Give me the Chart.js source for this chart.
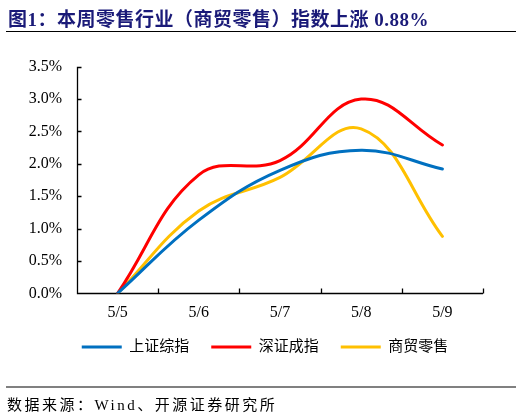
<!DOCTYPE html>
<html>
<head>
<meta charset="utf-8">
<script src="https://cdn.jsdelivr.net/npm/chart.js@4"></script>
<style>
  body { margin: 0; background: #fff; }
  #wrap { position: relative; width: 522px; height: 417px; overflow: hidden; }
  #chart { position: absolute; left: 0; top: 0; }
  .title {
    position: absolute; left: 8px; top: 4px; line-height: 22px;
    font: bold 19px "Liberation Serif", "Noto Sans CJK SC", serif;
    letter-spacing: 0.5px; color: #1a1a78; white-space: nowrap;
  }
  .rule { position: absolute; left: 6px; width: 510px; }
  .source {
    position: absolute; left: 7px; top: 393px; line-height: 20px;
    font: 15px "Liberation Serif", "Noto Sans CJK SC", serif;
    letter-spacing: 2.5px; color: #000; white-space: nowrap;
  }
</style>
</head>
<body>
<div id="wrap">
  <canvas id="chart" width="522" height="417"></canvas>
  <div class="title">图1：本周零售行业（商贸零售）指数上涨 0.88%</div>
  <div class="rule" style="top:30.5px;height:1.5px;background:#000"></div>
  <div class="rule" style="top:386px;height:1.5px;background:#808080"></div>
  <div class="source">数据来源：Wind、开源证券研究所</div>
</div>
<script>
/* ================= DATA ================= */
const days = ["5/5", "5/6", "5/7", "5/8", "5/9"];
const shIndex = [0, 1.13, 1.90, 2.21, 1.92];     // 上证综指
const szIndex = [0, 1.83, 2.05, 3.00, 2.29];     // 深证成指
const retail  = [0, 1.27, 1.79, 2.54, 0.88];     // 商贸零售
const yTicks  = [0, 0.5, 1.0, 1.5, 2.0, 2.5, 3.0, 3.5];

const serif = '"Liberation Serif", "Noto Sans CJK SC", serif';

/* ================= AXES (inward ticks) ================= */
const axisLines = {
  id: "axisLines",
  beforeDatasetsDraw(chart) {
    const { ctx, chartArea, scales: { x, y } } = chart;
    const left = Math.round(chartArea.left) + 0.5;
    const base = Math.round(y.getPixelForValue(0)) + 0.5;
    const top = y.getPixelForValue(yTicks[yTicks.length - 1]);

    ctx.save();
    ctx.strokeStyle = "#000";
    ctx.lineWidth = 1.3;
    ctx.beginPath();
    ctx.moveTo(left, top);
    ctx.lineTo(left, base);
    ctx.lineTo(x.getPixelForValue(days.length - 0.5), base);

    yTicks.forEach(v => {
      const py = Math.round(y.getPixelForValue(v)) + 0.5;
      ctx.moveTo(left, py);
      ctx.lineTo(left + 4, py);
    });

    for (let i = 0; i <= days.length; i++) {
      const px = Math.round(x.getPixelForValue(i - 0.5)) + 0.5;
      ctx.moveTo(px, base);
      ctx.lineTo(px, base - 5);
    }
    ctx.stroke();
    ctx.restore();
  }
};

/* ================= CHART ================= */
function series(label, data, color) {
  return {
    label: label,
    data: data,
    borderColor: color,
    backgroundColor: color,
    borderWidth: 3,
    borderCapStyle: "round",
    pointRadius: 0,
    tension: 0.4,
    fill: false,
    yAxisID: "y"
  };
}

new Chart(document.getElementById("chart"), {
  type: "line",
  data: {
    labels: days,
    datasets: [
      series("上证综指", shIndex, "#0070C0"),
      series("深证成指", szIndex, "#FF0000"),
      series("商贸零售", retail, "#FFC000")
    ]
  },
  options: {
    responsive: false,
    animation: false,
    layout: { padding: { top: 66.7, right: 0, left: 8, bottom: 52.5 } },
    scales: {
      x: {
        offset: true,
        grid: { display: false, drawTicks: false },
        border: { display: false },
        ticks: { color: "#000", font: { family: serif, size: 16 }, padding: 10 },
        afterFit: s => { s.height = 24.2; }
      },
      y: {
        min: 0,
        max: 3.5,
        grid: { display: false, drawTicks: false },
        border: { display: false },
        afterBuildTicks: s => { s.ticks = yTicks.map(v => ({ value: v })); },
        ticks: {
          color: "#000",
          padding: 15,
          font: { family: serif, size: 16 },
          callback: v => v.toFixed(1) + "%"
        },
        afterFit: s => { s.width = 69; }
      },
      right: {
        position: "right",
        display: true,
        grid: { display: false, drawTicks: false },
        border: { display: false },
        ticks: { display: false },
        afterFit: s => { s.width = 39; }
      }
    },
    plugins: {
      tooltip: { enabled: false },
      legend: {
        position: "bottom",
        labels: {
          boxWidth: 40,
          boxHeight: 3,
          padding: 22,
          color: "#000",
          font: { family: serif, size: 15 },
          generateLabels: chart => chart.data.datasets.map((d, i) => ({
            text: d.label,
            fillStyle: d.borderColor,
            strokeStyle: d.borderColor,
            lineWidth: 0,
            hidden: false,
            datasetIndex: i
          }))
        }
      }
    }
  },
  plugins: [axisLines]
});
</script>
</body>
</html>
